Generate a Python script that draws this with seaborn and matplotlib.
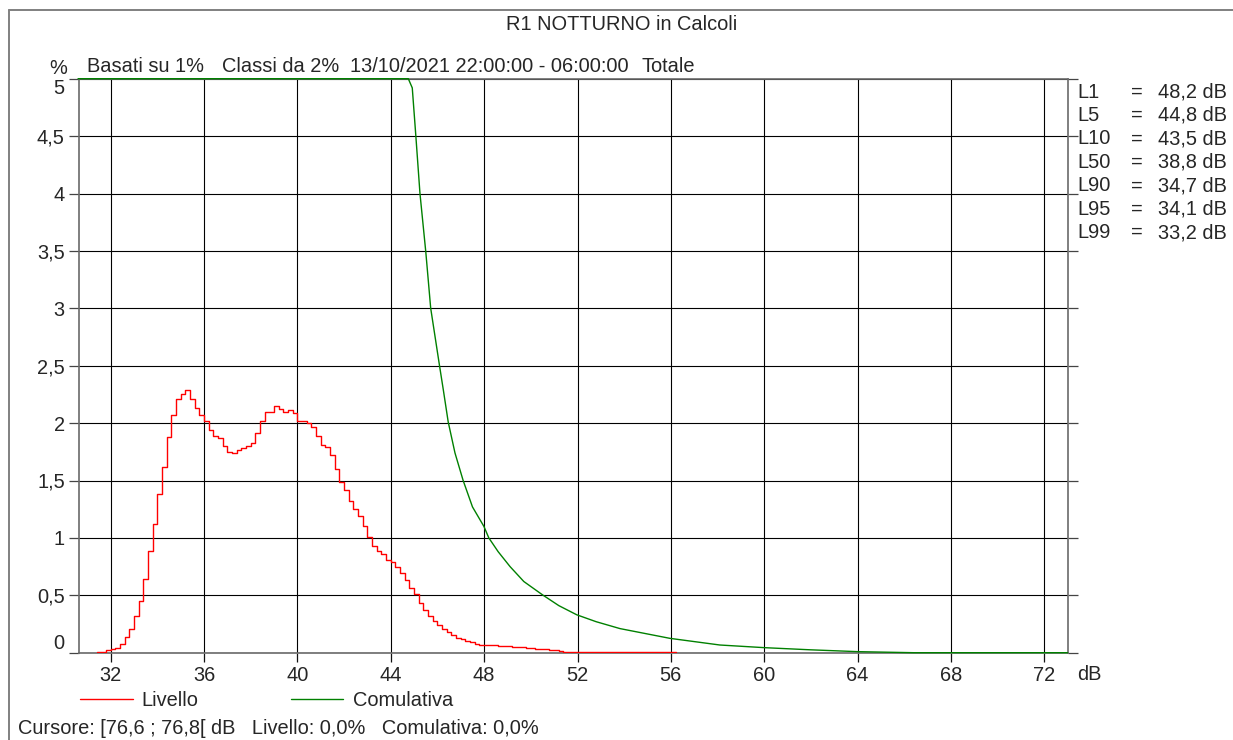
import numpy as np
import matplotlib
matplotlib.use("Agg")
import matplotlib.pyplot as plt
import seaborn as sns
from matplotlib.lines import Line2D

# Level classes of 0.2 dB (left edges) and percentage of time in each class
classStart = 31.4
classWidth = 0.2
livelloPct = [
    0.007, 0.007, 0.02, 0.03, 0.045, 0.08, 0.14, 0.21, 0.32, 0.45,
    0.645, 0.89, 1.12, 1.38, 1.62, 1.88, 2.07, 2.21, 2.25, 2.29,
    2.21, 2.13, 2.07, 2.02, 1.94, 1.89, 1.87, 1.80, 1.75, 1.74,
    1.77, 1.78, 1.80, 1.83, 1.91, 2.02, 2.10, 2.10, 2.15, 2.12,
    2.10, 2.11, 2.09,
    2.02, 2.02, 2.00, 1.97, 1.89, 1.81, 1.79, 1.72, 1.60, 1.49,
    1.42, 1.32, 1.25, 1.19, 1.10, 1.01, 0.93, 0.89, 0.86, 0.81,
    0.79, 0.75, 0.69, 0.63, 0.56, 0.51, 0.43, 0.37, 0.32, 0.28,
    0.24, 0.21, 0.18, 0.15, 0.13, 0.12, 0.10, 0.09, 0.08, 0.07,
    0.07, 0.064, 0.064, 0.055, 0.055, 0.055, 0.05, 0.05, 0.046, 0.045,
    0.04, 0.035, 0.032, 0.028, 0.025, 0.02, 0.015, 0.01, 0.01, 0.01,
    0.01, 0.01, 0.01, 0.01, 0.01, 0.01, 0.01, 0.01, 0.01, 0.01,
    0.01, 0.01, 0.01, 0.01, 0.01, 0.01, 0.01, 0.01, 0.01, 0.01,
    0.01,
]

# Cumulative curve (percentage of time above level)
comulDb = [30.6, 31.4, 43.5, 44.75, 44.92, 45.07, 45.25, 45.5, 45.71, 46.08,
           46.25, 46.46, 46.75, 47.1, 47.5, 47.99, 48.2, 48.6, 49.11, 49.7,
           50.39, 50.53, 51.2, 51.97, 52.8, 53.82, 55.96, 58.1, 60.0, 62.0,
           64.03, 66.4, 73.0]
comulPct = [100, 100, 10, 5.0, 4.92, 4.51, 4.0, 3.49, 3.0, 2.51,
            2.29, 2.01, 1.74, 1.5, 1.27, 1.1, 1.0, 0.88, 0.75, 0.62,
            0.52, 0.5, 0.41, 0.33, 0.27, 0.21, 0.125, 0.067, 0.044, 0.025,
            0.009, 0.0, 0.0]

percentili = ["L1", "L5", "L10", "L50", "L90", "L95", "L99"]
percentiliDb = ["48,2", "44,8", "43,5", "38,8", "34,7", "34,1", "33,2"]

xTicks = [32, 36, 40, 44, 48, 52, 56, 60, 64, 68, 72]
yTicks = [0, 0.5, 1, 1.5, 2, 2.5, 3, 3.5, 4, 4.5, 5]

sns.set_style("white")
plt.rcParams['font.family'] = ['Liberation Sans', 'DejaVu Sans']
fs = 14.4

W, H = 1233, 740
fig = plt.figure(figsize=(W / 100, H / 100), dpi=100)
ax = fig.add_axes([79 / W, 1 - 652.7 / H, (1068.3 - 79) / W, (652.7 - 78.7) / H])

def fx(px):
    return px / W

def fy(py):
    # small shift so text glyphs sit where the reference has them
    return 1 - (py + 2) / H

# histogram as steps
edges = np.round(classStart + classWidth * np.arange(len(livelloPct) + 1), 1)
stepVals = livelloPct + [livelloPct[-1]]
sns.lineplot(x=edges, y=stepVals, drawstyle='steps-post', color='#ff0000',
             lw=1.0, estimator=None, ax=ax, zorder=4)

yMax = 5
sns.lineplot(x=comulDb, y=np.clip(comulPct, 0, yMax), color='#008000',
             lw=1.0, estimator=None, ax=ax, zorder=4, clip_on=False)

ax.set_xlim(30.64, 73.03)
ax.set_ylim(0, yMax)
ax.set_xticks(xTicks)
ax.set_xticklabels([str(t) for t in xTicks])
ax.set_yticks(yTicks)
ax.set_yticklabels([f"{t:g}".replace('.', ',') for t in yTicks])
ax.grid(True, color='black', lw=0.8)
ax.set_axisbelow(True)
ax.set_xlabel('')
ax.set_ylabel('')

for s in ax.spines.values():
    s.set_color('#6a6a6a')
    s.set_linewidth(1.2)

ax.tick_params(axis='y', which='major', direction='out', length=7.2, width=0.9,
               color='#444444', left=True, right=True, labelright=False,
               labelsize=fs, pad=3)
ax.tick_params(axis='x', which='major', direction='out', length=6.5, width=0.9,
               color='#111111', bottom=True, labelsize=fs, pad=3)

yt = ax.yaxis.get_major_ticks()
yt[0].label1.set_va('bottom')
yt[-1].label1.set_va('top')

# frame around the whole picture
fig.add_artist(Line2D([fx(9.3), 1.0], [1 - 10 / H, 1 - 10 / H], color='#808080', lw=1.4))
fig.add_artist(Line2D([fx(9.3), fx(9.3)], [1 - 10 / H, 0.0], color='#808080', lw=1.4))

fig.text(fx(622), fy(22), "R1 NOTTURNO in Calcoli", ha='center', va='center', fontsize=fs)
fig.text(fx(58), fy(66), "%", ha='center', va='center', fontsize=fs)
fig.text(fx(87), fy(65), "Basati su 1%", ha='left', va='center', fontsize=fs)
fig.text(fx(222), fy(65), "Classi da 2%", ha='left', va='center', fontsize=fs)
fig.text(fx(350), fy(65), "13/10/2021 22:00:00 - 06:00:00", ha='left', va='center', fontsize=fs)
fig.text(fx(641), fy(65), "Totale", ha='left', va='center', fontsize=fs)
fig.text(fx(1077), fy(673), "dB", ha='left', va='center', fontsize=fs)

rowY = 90
for name, val in zip(percentili, percentiliDb):
    fig.text(fx(1077), fy(rowY), name, ha='left', va='center', fontsize=fs)
    fig.text(fx(1137), fy(rowY), "=", ha='center', va='center', fontsize=fs)
    fig.text(fx(1227), fy(rowY), val + " dB", ha='right', va='center', fontsize=fs)
    rowY += 23.45

# legend drawn as in the original software
fig.add_artist(Line2D([fx(79.7), fx(132.7)], [1 - 699 / H, 1 - 699 / H], color='#ff0000', lw=1.0))
fig.text(fx(141), fy(699), "Livello", ha='left', va='center', fontsize=fs)
fig.add_artist(Line2D([fx(291), fx(343)], [1 - 699 / H, 1 - 699 / H], color='#008000', lw=1.0))
fig.text(fx(353), fy(699), "Comulativa", ha='left', va='center', fontsize=fs)

fig.text(fx(18), fy(726), "Cursore: [76,6 ; 76,8[ dB   Livello: 0,0%   Comulativa: 0,0%",
         ha='left', va='center', fontsize=fs)

fig.savefig("out.png", dpi=100, facecolor='white')
